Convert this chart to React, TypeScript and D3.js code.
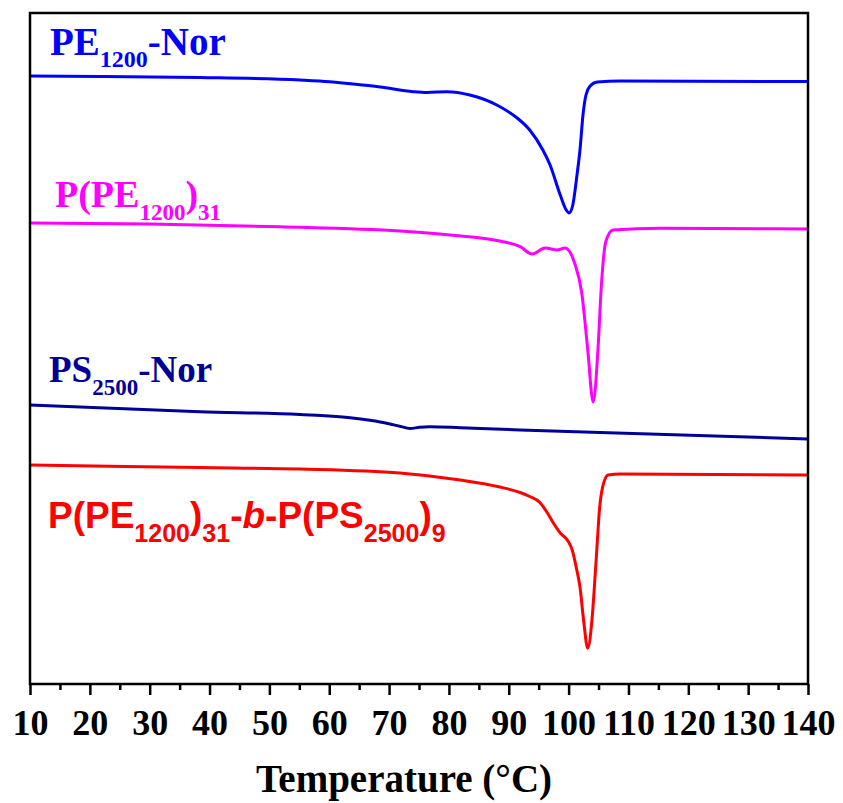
import React, { useEffect, useRef } from 'react';
import * as d3 from 'd3';

// DSC cooling curves, heat flow in arbitrary units (curves offset vertically)
const peNorT = [10, 21.7, 38.4, 55.1, 60.1, 65.6, 68.5, 74, 76.3, 79.7, 83.5, 88, 91.4, 93.5, 95.7, 96.9, 98.6, 99.6, 100.1, 100.7, 101.4, 101.9, 102.4, 102.9, 103.6, 104.8, 108.6, 140];
const peNorV = [60.8, 60.75, 60.65, 60.4, 60.23, 59.9, 59.7, 59.23, 59.15, 59.23, 58.9, 57.9, 56.6, 55.4, 53.4, 51.9, 48.9, 47.4, 47.1, 47.9, 50.9, 53.4, 56.9, 58.9, 59.8, 60.2, 60.3, 60.24];

const ppeT = [10, 30, 51.8, 71.8, 80.2, 88.5, 91.9, 93.9, 96.1, 98.1, 99.4, 101, 102.2, 103.2, 104.1, 104.9, 105.5, 106.2, 107.4, 115.3, 140];
const ppeV = [46.1, 46.0, 45.73, 45.3, 44.9, 44.3, 43.73, 43.0, 43.6, 43.4, 43.6, 42.1, 39.1, 33.4, 28.2, 33.4, 40.1, 44.2, 45.4, 45.57, 45.5];

const psNorT = [10, 38.4, 55.1, 59.3, 63.5, 66.8, 68.5, 71.8, 73.5, 75.1, 76.8, 81.9, 91.9, 113.5, 140];
const psNorV = [27.9, 27.23, 26.95, 26.82, 26.62, 26.37, 26.2, 25.78, 25.55, 25.67, 25.72, 25.63, 25.4, 25.0, 24.5];

const blockT = [10, 38.4, 55.1, 71.8, 81.9, 88.5, 91.9, 93.5, 95.2, 96.3, 97.4, 98.6, 99.9, 100.6, 101.3, 101.9, 102.5, 103.2, 103.9, 104.6, 105.2, 105.7, 106.6, 108.6, 140];
const blockV = [21.9, 21.65, 21.5, 21.1, 20.4, 19.7, 19.15, 18.75, 18.15, 17.25, 16.15, 15.1, 14.3, 13.4, 11.6, 9.7, 6.4, 3.57, 6.4, 12.4, 17.73, 19.73, 20.9, 21.0, 20.9];

const xTicks = [10, 20, 30, 40, 50, 60, 70, 80, 90, 100, 110, 120, 130, 140];
const xMinorTicks = [15, 25, 35, 45, 55, 65, 75, 85, 95, 105, 115, 125, 135];
const xTitle = 'Temperature (°C)';

const seriesList = [
  { t: peNorT, v: peNorV, color: '#0000ff' },
  { t: ppeT, v: ppeV, color: '#ff00ff' },
  { t: psNorT, v: psNorV, color: '#000099' },
  { t: blockT, v: blockV, color: '#ff0000' },
];

export default function App() {
  const ref = useRef<SVGSVGElement>(null);

  useEffect(() => {
    const width = 843, height = 803;
    const margin = { top: 13, right: 35, bottom: 119, left: 30 };
    const svg = d3.select(ref.current);
    svg.selectAll('*').remove();

    const x = d3.scaleLinear().domain([10, 140]).range([margin.left, width - margin.right]);
    const y = d3.scaleLinear().domain([0, 67.1]).range([height - margin.bottom, margin.top]);

    const line = d3.line<[number, number]>()
      .x(d => x(d[0]))
      .y(d => y(d[1]))
      .curve(d3.curveMonotoneX);

    seriesList.forEach(s => {
      const pts: [number, number][] = s.t.map((t, i) => [t, s.v[i]]);
      svg.append('path')
        .attr('d', line(pts))
        .attr('fill', 'none')
        .attr('stroke', s.color)
        .attr('stroke-width', 3)
        .attr('stroke-linejoin', 'round');
    });

    // frame
    svg.append('rect')
      .attr('x', x(10))
      .attr('y', y(67.1))
      .attr('width', x(140) - x(10))
      .attr('height', y(0) - y(67.1))
      .attr('fill', 'none')
      .attr('stroke', '#000')
      .attr('stroke-width', 2.5);

    const serif = '"Liberation Serif", "Times New Roman", serif';
    const sans = '"Liberation Sans", Arial, sans-serif';

    // x axis
    const gx = svg.append('g').attr('transform', `translate(0,${y(0)})`);
    gx.call(d3.axisBottom(x).tickValues(xTicks).tickSize(11).tickFormat(d3.format('d')));
    gx.select('.domain').remove();
    gx.selectAll('line').attr('stroke', '#000').attr('stroke-width', 2.5);
    gx.selectAll('text')
      .attr('y', 51)
      .attr('dy', 0)
      .attr('fill', '#000')
      .style('font-family', serif)
      .style('font-weight', 'bold')
      .style('font-size', '36px');

    const gm = svg.append('g').attr('transform', `translate(0,${y(0)})`);
    gm.call(d3.axisBottom(x).tickValues(xMinorTicks).tickSize(6).tickFormat(() => ''));
    gm.select('.domain').remove();
    gm.selectAll('line').attr('stroke', '#000').attr('stroke-width', 2.5);

    svg.append('text')
      .attr('x', 404)
      .attr('y', 792)
      .attr('text-anchor', 'middle')
      .style('font-family', serif)
      .style('font-weight', 'bold')
      .style('font-size', '39px')
      .text(xTitle);

    // labels
    type Part = { s: string; sub?: boolean; it?: boolean };
    const label = (px: number, py: number, color: string, font: string, size: number, subSize: number, subDy: number, parts: Part[]) => {
      const t = svg.append('text')
        .attr('x', px)
        .attr('y', py)
        .attr('fill', color)
        .style('font-family', font)
        .style('font-weight', 'bold')
        .style('font-size', size + 'px');
      let down = false;
      parts.forEach(p => {
        const span = t.append('tspan').text(p.s);
        if (p.sub && !down) { span.attr('dy', subDy); down = true; }
        else if (!p.sub && down) { span.attr('dy', -subDy); down = false; }
        if (p.sub) span.style('font-size', subSize + 'px');
        if (p.it) span.style('font-style', 'italic');
      });
    };

    label(50, 55, '#0000ff', serif, 39, 24, 12, [{ s: 'PE' }, { s: '1200', sub: true }, { s: '-Nor' }]);
    label(55, 207, '#ff00ff', serif, 38, 23, 13, [{ s: 'P(PE' }, { s: '1200', sub: true }, { s: ')' }, { s: '31', sub: true }]);
    label(49, 382, '#000099', serif, 37, 23, 13, [{ s: 'PS' }, { s: '2500', sub: true }, { s: '-Nor' }]);
    label(48, 528, '#ff0000', sans, 37, 25, 14, [
      { s: 'P(PE' }, { s: '1200', sub: true }, { s: ')' }, { s: '31', sub: true },
      { s: '-' }, { s: 'b', it: true }, { s: '-P(PS' }, { s: '2500', sub: true }, { s: ')' }, { s: '9', sub: true },
    ]);
  }, []);

  return (
    <svg ref={ref} width={843} height={803} style={{ position: 'absolute', left: 0, top: 0, background: '#fff' }} />
  );
}
